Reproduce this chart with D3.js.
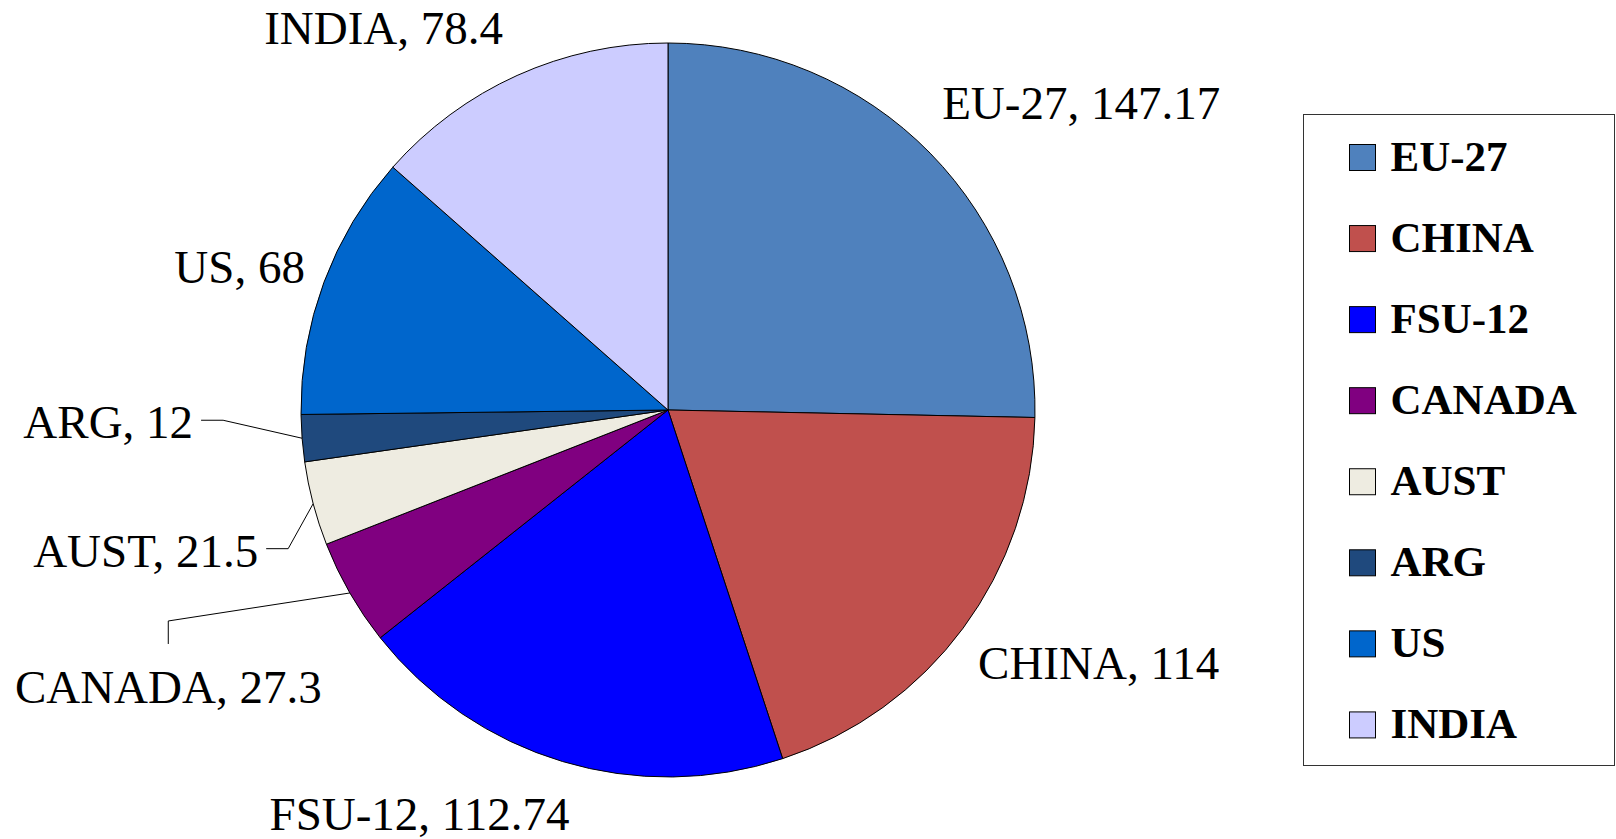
<!DOCTYPE html>
<html>
<head>
    <style>
        body { margin: 0; background: #fff; }
        text { font-family: "Liberation Serif", "Times New Roman", serif; }
    </style>
    <script src="https://d3js.org/d3.v7.min.js"></script>
</head>
<body>
    <svg width="1616" height="839"></svg>
    <script>

        // andmed
        var regions = ["EU-27", "CHINA", "FSU-12", "CANADA", "AUST", "ARG", "US", "INDIA"];
        var amounts = [147.17, 114, 112.74, 27.3, 21.5, 12, 68, 78.4];
        var colors  = ["#4F81BD", "#C0504D", "#0000FF", "#800080", "#EEECE1", "#1F497D", "#0066CC", "#CCCCFF"];

        // sildi nihe kaare välisserva punktist (dx, dy, ankur, juhtjoon)
        var labelNudge = [
            [12, -34, "start", null],
            [15, 51, "start", null],
            [-143, 69, "middle", null],
            [-335, 110, "start", "top"],
            [-55, 63, "end", "side"],
            [-109, 0, "end", "side"],
            [-19, 1, "end", null],
            [-14, -31, "end", null]
        ];

        var data = regions.map(function(r, i) { return { name: r, value: amounts[i], color: colors[i] }; });

        var svg = d3.select("svg");
        var cx = 668, cy = 410, radius = 367;

        var g = svg.append("g")
                   .attr("transform", "translate(" + cx + "," + cy + ")");

        var pie = d3.pie().sort(null).value(function(d) { return d.value; });

        var path = d3.arc().outerRadius(radius).innerRadius(0);
        var edge = d3.arc().outerRadius(radius).innerRadius(radius);  // punkt kaare välisservas

        var arcs = pie(data);

        g.selectAll(".slice")
            .data(arcs)
            .enter().append("path")
            .attr("class", "slice")
            .attr("d", path)
            .attr("fill", function(d) { return d.data.color; })
            .attr("stroke", "#000")
            .attr("stroke-width", 1);

        // sildid
        var labels = g.selectAll(".lbl")
            .data(arcs)
            .enter().append("g")
            .attr("class", "lbl");

        labels.each(function(d, i) {
            var p = edge.centroid(d);
            var n = labelNudge[i];
            var x = p[0] + n[0], y = p[1] + n[1];
            var t = d3.select(this).append("text")
                .attr("x", x).attr("y", y)
                .attr("text-anchor", n[2])
                .attr("font-size", "47px")
                .attr("fill", "#000")
                .text(d.data.name + ", " + d.data.value);

            if (n[3]) {
                var b = t.node().getBBox();
                var pts;
                if (n[3] == "side") {
                    var sx = b.x + b.width + 8, sy = y - 18;
                    pts = [[sx, sy], [sx + 22, sy], p];
                } else {
                    var tx = b.x + b.width / 2, ty = y - 59;
                    pts = [[tx, ty], [tx, ty - 23], p];
                }
                d3.select(this).append("path")
                    .attr("d", d3.line()(pts))
                    .attr("fill", "none")
                    .attr("stroke", "#000")
                    .attr("stroke-width", 1);
            }
        });

        // legend
        var legend = svg.append("g").attr("transform", "translate(1303.5,114.5)");

        legend.append("rect")
            .attr("width", 311).attr("height", 651)
            .attr("fill", "#fff")
            .attr("stroke", "#333")
            .attr("stroke-width", 1);

        var step = d3.scalePoint().domain(regions).range([30, 30 + 7 * 81.06]);

        var item = legend.selectAll(".item")
            .data(data)
            .enter().append("g")
            .attr("class", "item")
            .attr("transform", function(d) { return "translate(46," + step(d.name) + ")"; });

        item.append("rect")
            .attr("width", 26).attr("height", 26)
            .attr("fill", function(d) { return d.color; })
            .attr("stroke", "#000")
            .attr("stroke-width", 1);

        item.append("text")
            .attr("x", 41).attr("y", 26.5)
            .attr("font-size", "43px")
            .attr("font-weight", "bold")
            .text(function(d) { return d.name; });

    </script>
</body>
</html>
